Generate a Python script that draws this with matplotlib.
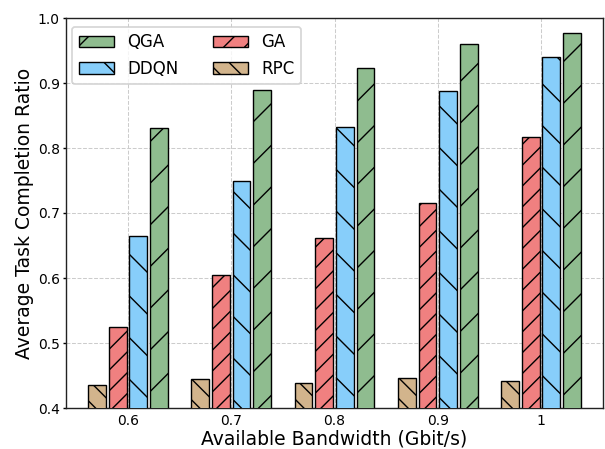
import matplotlib
matplotlib.use("Agg")
import matplotlib.pyplot as plt
import numpy as np

categories = ["0.6", "0.7", "0.8", "0.9", "1"]
rpc = [0.436, 0.444, 0.439, 0.446, 0.441]
ga = [0.524, 0.604, 0.662, 0.716, 0.817]
ddqn = [0.664, 0.750, 0.833, 0.888, 0.940]
qga = [0.831, 0.889, 0.923, 0.960, 0.977]

DPI = 125
plt.rcParams['hatch.linewidth'] = 0.8
fig = plt.figure(figsize=(605 / DPI, 449 / DPI), dpi=DPI)
ax = fig.add_axes([66 / 605, 41 / 449, 537 / 605, 390 / 449])

x = np.arange(len(categories))
step = 0.2
w = 0.172
series = [
    ("RPC", rpc, "#d2b48c", "\\\\", -1.5),
    ("GA", ga, "#f08080", "//", -0.5),
    ("DDQN", ddqn, "#87cefa", "\\", 0.5),
    ("QGA", qga, "#8fbc8f", "/", 1.5),
]
handles = {}
for name, vals, col, hatch, off in series:
    b = ax.bar(x + off * step, vals, w, color=col, edgecolor="black",
               hatch=hatch, linewidth=0.8, label=name, zorder=3)
    handles[name] = b

ax.set_ylim(0.4, 1.0)
ax.set_xlim(-0.6, 4.6)
ax.set_xticks(x)
ax.set_xticklabels(categories)
ax.tick_params(axis='x', labelsize=8, length=0, pad=3.5)
ax.tick_params(axis='y', labelsize=8, length=2, pad=1.5)
ax.set_xlabel("Available Bandwidth (Gbit/s)", fontsize=10.8, labelpad=1)
ax.set_ylabel("Average Task Completion Ratio", fontsize=10.8, labelpad=2)
ax.grid(True, linestyle="--", color="#cccccc", linewidth=0.6, zorder=0)
ax.set_axisbelow(True)
for s in ax.spines.values():
    s.set_color("#222222")

order = ["QGA", "DDQN", "GA", "RPC"]
ax.legend([handles[n] for n in order], order, loc="upper left", ncol=2,
          fontsize=9.6, handlelength=2.1, columnspacing=2.1,
          bbox_to_anchor=(0.011, 0.978), borderaxespad=0)

fig.savefig("out.png", dpi=DPI)
